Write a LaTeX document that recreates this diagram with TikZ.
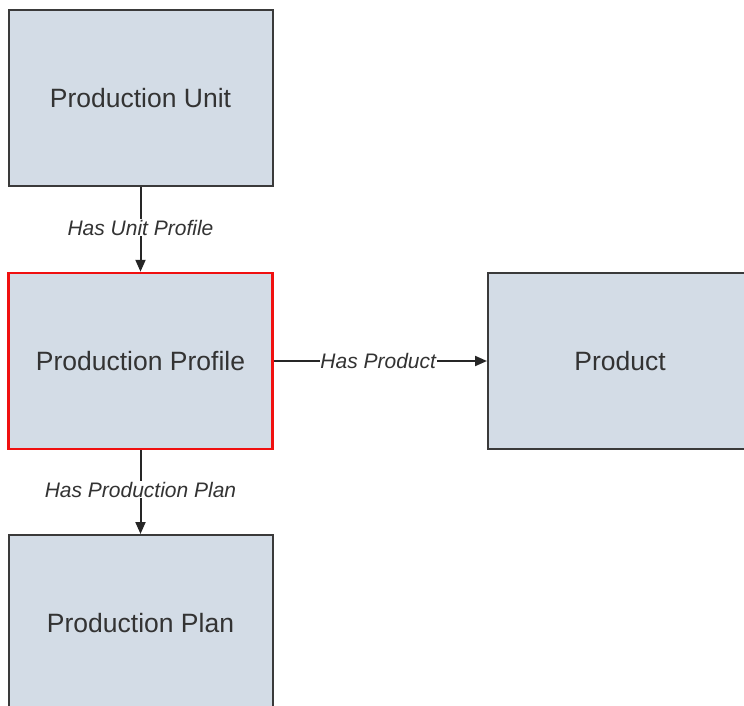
\documentclass[tikz,border=0pt]{standalone}
\usepackage{fontspec}
\setmainfont{Liberation Sans}
\usetikzlibrary{arrows.meta}
\definecolor{boxfill}{HTML}{D3DCE6}
\definecolor{boxline}{HTML}{3A3A3A}
\definecolor{txt}{HTML}{333333}
\definecolor{focusred}{HTML}{F01010}
\begin{document}
\begin{tikzpicture}[x=1pt,y=-1pt,
  entity/.style={draw=boxline,line width=2pt,fill=boxfill,minimum width=264pt,minimum height=176pt,inner sep=0pt,text=txt,font=\fontsize{26.5}{30}\selectfont},
  focus/.style={entity,draw=focusred,line width=2.5pt},
  rel/.style={draw=black!85,line width=2pt,-{Triangle[length=12pt,width=10pt]}},
  rellabel/.style={fill=white,inner sep=0.5pt,text=txt,font=\fontsize{21}{24}\selectfont\itshape}]
\useasboundingbox (0,0) rectangle (744,706);
\node[entity] (unit) at (140.5,98) {Production Unit};
\node[focus] (profile) at (140.5,361) {Production Profile};
\node[entity] (product) at (620,361) {Product};
\node[entity] (plan) at (140.5,623) {Production Plan};
\draw[rel] (unit.south) -- node[rellabel,pos=0.48] {Has Unit Profile} (profile.north);
\draw[rel] (profile.east) -- node[rellabel,pos=0.49] {Has Product} (product.west);
\draw[rel] (profile.south) -- node[rellabel,pos=0.47] {Has Production Plan} (plan.north);
\end{tikzpicture}
\end{document}
